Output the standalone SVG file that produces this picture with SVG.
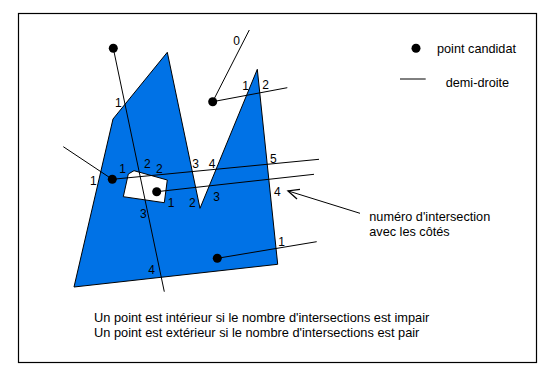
<svg xmlns="http://www.w3.org/2000/svg" width="540" height="366" viewBox="0 0 540 366">
<defs>
<style>
.t{font-family:"Liberation Sans",Arial,sans-serif;font-size:12.7px;fill:#000}
.c{font-family:"Liberation Sans",Arial,sans-serif;font-size:12.8px;fill:#000}
.n{font-family:"Liberation Sans",Arial,sans-serif;font-size:12px;fill:#000;text-anchor:middle}
.ray{stroke:#000;stroke-width:1;fill:none}
.pt{fill:#000}
</style>
<marker id="arr" markerWidth="14" markerHeight="12" refX="12" refY="6" orient="auto" markerUnits="userSpaceOnUse">
<path d="M1,1 L12,6 L1,11" fill="none" stroke="#000" stroke-width="1.3"/>
</marker>
</defs>
<rect x="0" y="0" width="540" height="366" fill="#fff"/>
<rect x="18.5" y="13.5" width="518" height="349" fill="#fff" stroke="#000" stroke-width="1.2"/>
<g id="polygon">
<path d="M74,287 L113,119 L167.3,52.3 L200,208.3 L257.3,69.3 L277.7,264.3 Z" fill="#0072E6" stroke="#000" stroke-width="1"/>
<path d="M128.3,174 L134,170.7 L167.3,180 L164.3,202.7 L123.3,196.7 Z" fill="#fff" stroke="#000" stroke-width="1"/>
</g>
<g id="connectors">
<line class="ray" x1="113.3" y1="48.3" x2="164.3" y2="291.7"/>
<line class="ray" x1="212.7" y1="101.7" x2="249.3" y2="30"/>
<line class="ray" x1="212.7" y1="101.7" x2="287.3" y2="87.7"/>
<line class="ray" x1="112.3" y1="179.3" x2="63.3" y2="146.7"/>
<line class="ray" x1="112.3" y1="179.3" x2="319" y2="159.3"/>
<line class="ray" x1="156.7" y1="191.7" x2="314" y2="174.3"/>
<line class="ray" x1="217.3" y1="258.3" x2="316.7" y2="241.7"/>
<line class="ray" x1="360" y1="213.3" x2="288" y2="190.9" marker-end="url(#arr)"/>
</g>
<g id="points">
<circle class="pt" cx="113.3" cy="48.3" r="4.5"/>
<circle class="pt" cx="212.7" cy="101.7" r="4.5"/>
<circle class="pt" cx="112.3" cy="179.3" r="4.5"/>
<circle class="pt" cx="156.7" cy="191.7" r="4.5"/>
<circle class="pt" cx="217.3" cy="258.3" r="4.5"/>
</g>
<g id="labels">
<text class="n" x="118.3" y="107">1</text>
<text class="n" x="147.3" y="168.3">2</text>
<text class="n" x="159.3" y="172.6">2</text>
<text class="n" x="122.7" y="173.3">1</text>
<text class="n" x="195.7" y="167.6">3</text>
<text class="n" x="212" y="167.6">4</text>
<text class="n" x="273.3" y="163.3">5</text>
<text class="n" x="93.3" y="185">1</text>
<text class="n" x="277.3" y="196">4</text>
<text class="n" x="216.7" y="201">3</text>
<text class="n" x="192.3" y="207">2</text>
<text class="n" x="171" y="207">1</text>
<text class="n" x="143.3" y="217.6">3</text>
<text class="n" x="151.7" y="273.6">4</text>
<text class="n" x="281.7" y="246">1</text>
<text class="n" x="236.7" y="45.3">0</text>
<text class="n" x="245.7" y="90.3">1</text>
<text class="n" x="265.7" y="89.3">2</text>
</g>
<g id="legend">
<circle class="pt" cx="416" cy="48.3" r="4.5"/>
<text class="t" x="437" y="52.5">point candidat</text>
<line class="ray" x1="400" y1="79" x2="425.7" y2="79"/>
<text class="t" x="445.7" y="86.5">demi-droite</text>
</g>
<g id="annotation">
<text class="t" x="369.3" y="220.5">numéro d'intersection</text>
<text class="t" x="369.3" y="235.5">avec les côtés</text>
</g>
<g id="caption">
<text class="c" x="94" y="322">Un point est intérieur si le nombre d'intersections est impair</text>
<text class="c" x="94" y="337">Un point est extérieur si le nombre d'intersections est pair</text>
</g>
</svg>
